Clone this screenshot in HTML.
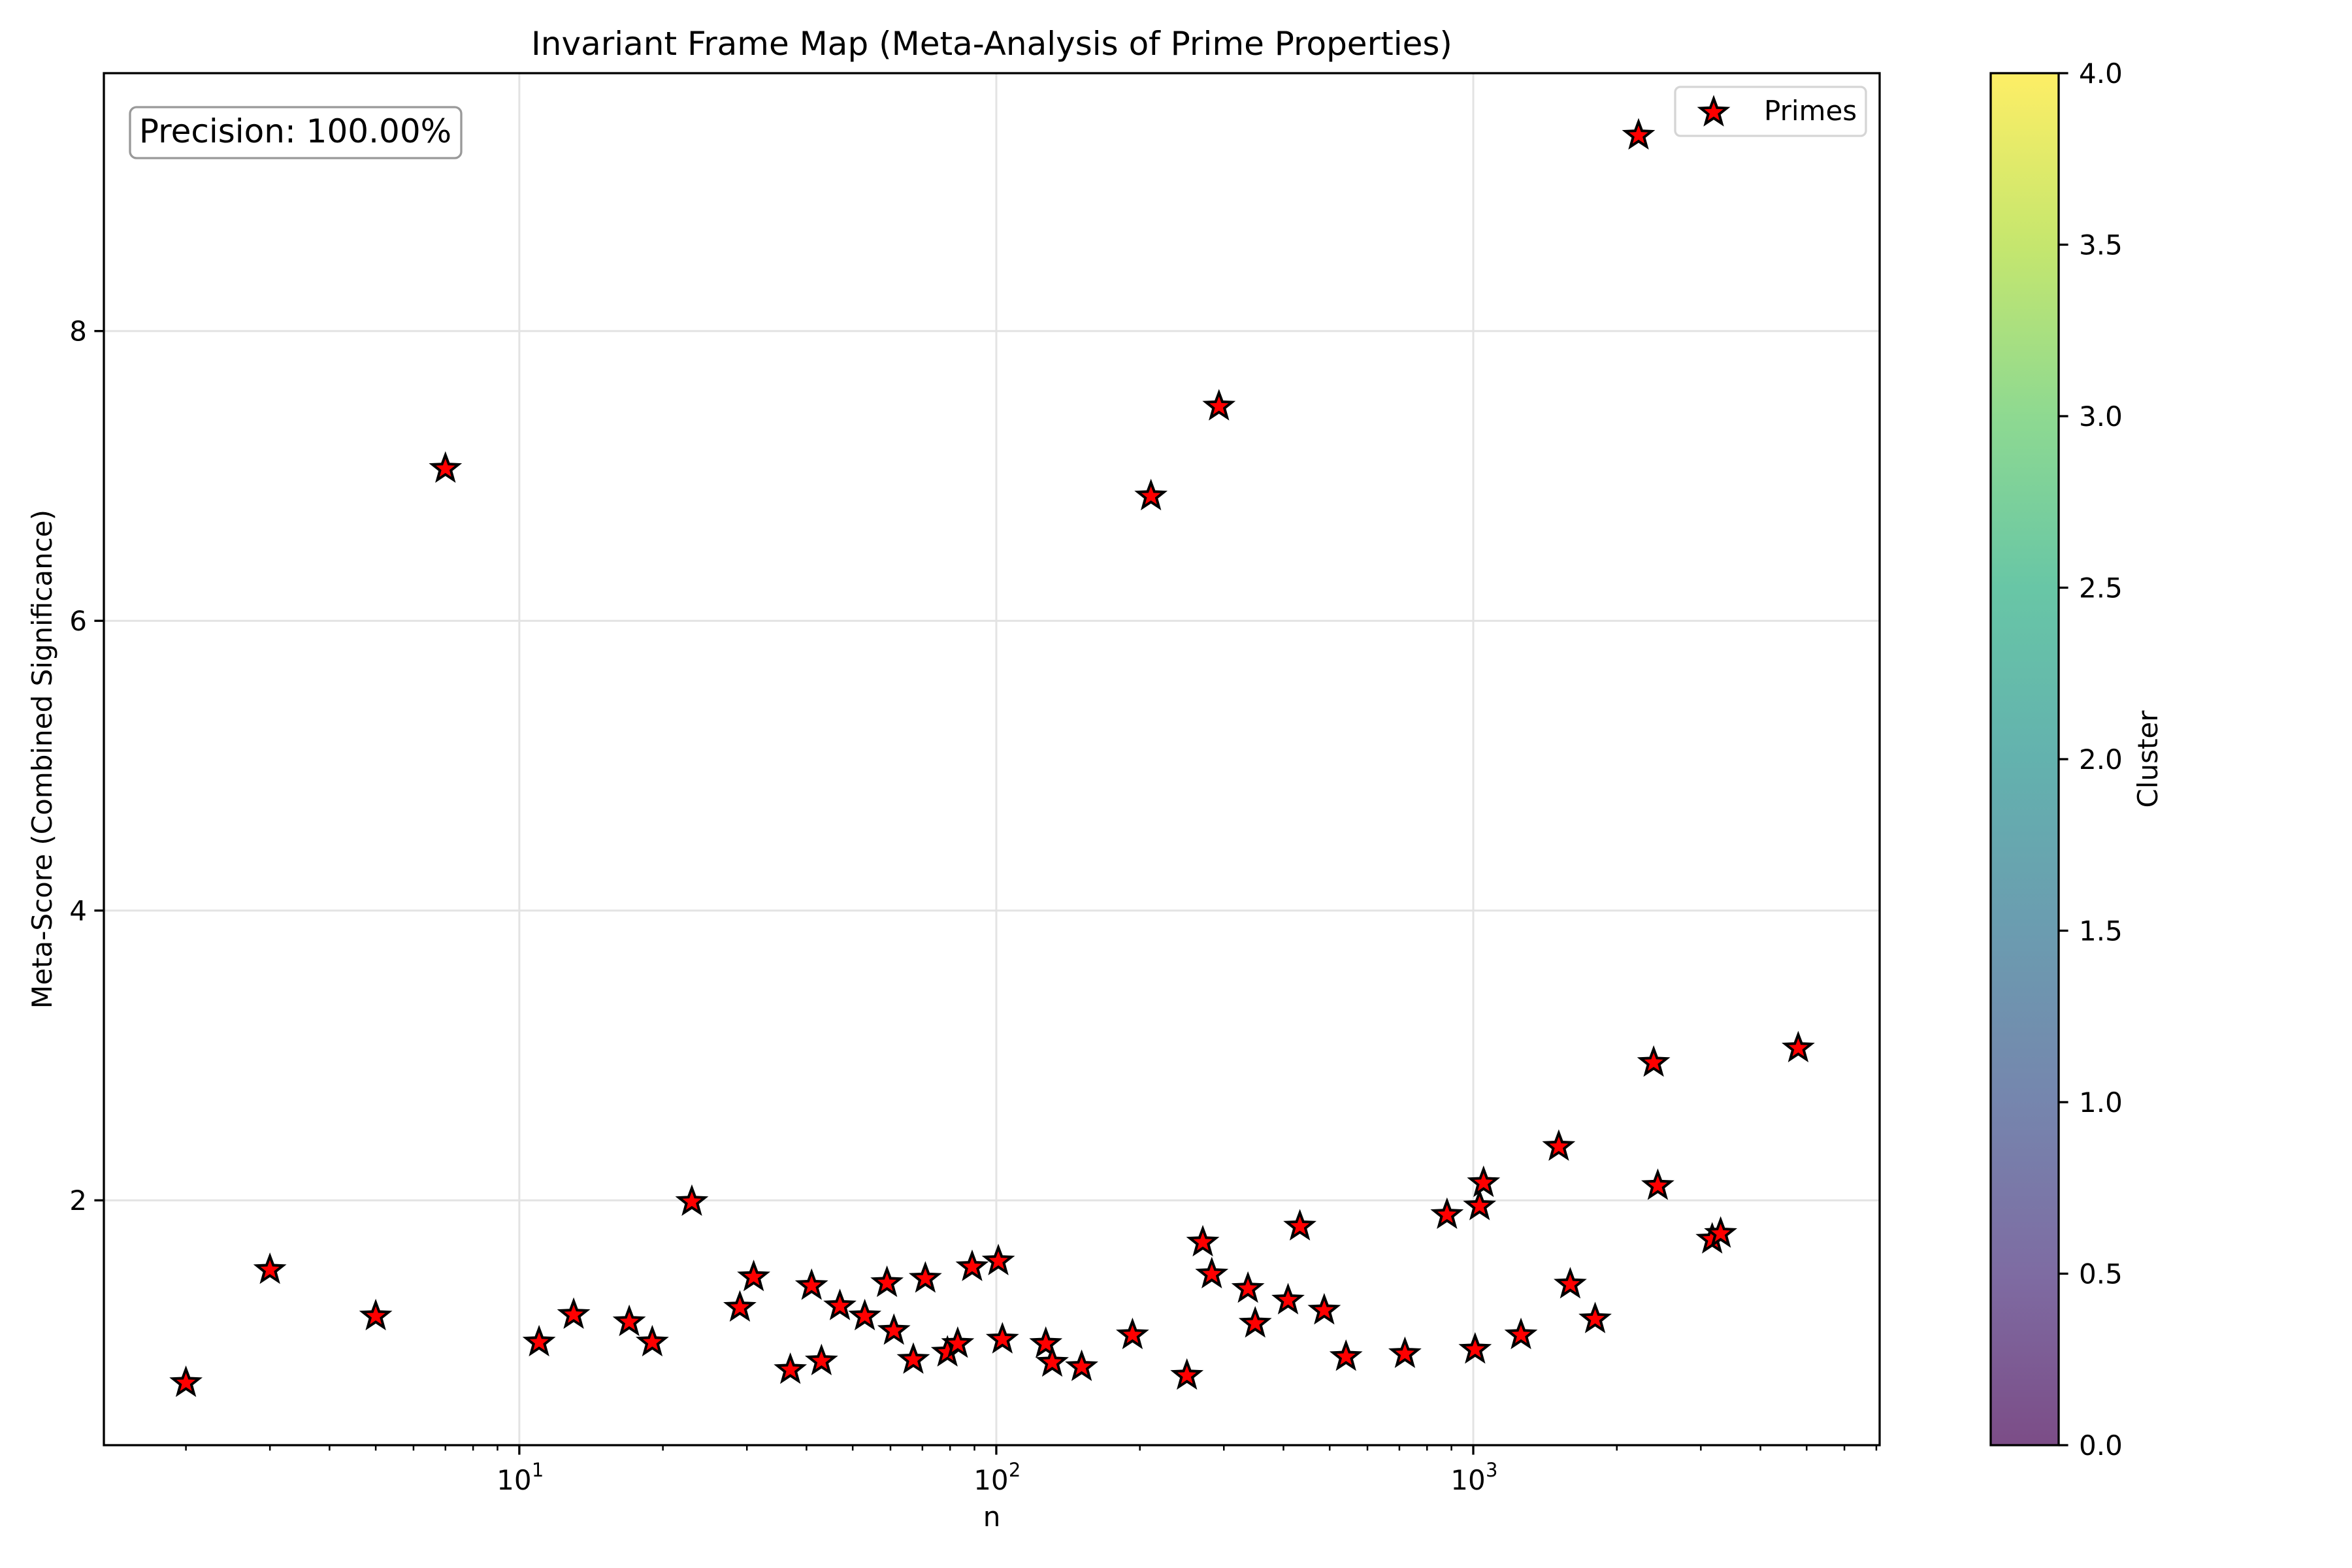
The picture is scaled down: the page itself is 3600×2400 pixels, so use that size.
<!DOCTYPE html>
<html><head><meta charset="utf-8">
<style>
html,body{margin:0;padding:0;background:#fff;}
svg{display:block;font-family:"DejaVu Sans","Liberation Sans",sans-serif;}
</style></head>
<body>
<svg id="chart" width="3600" height="2400" viewBox="0 0 3600 2400" xmlns="http://www.w3.org/2000/svg">
<defs>
<linearGradient id="viridis" x1="0" y1="1" x2="0" y2="0">
<stop offset="0" stop-color="#440154"/><stop offset="0.125" stop-color="#472d7b"/><stop offset="0.25" stop-color="#3b528b"/><stop offset="0.375" stop-color="#2c728e"/><stop offset="0.5" stop-color="#21918c"/><stop offset="0.625" stop-color="#28ae80"/><stop offset="0.75" stop-color="#5ec962"/><stop offset="0.875" stop-color="#addc30"/><stop offset="1" stop-color="#fde725"/>
</linearGradient>
</defs>
<g id="grid"></g>
<g id="points"></g>
<rect x="159" y="112" width="2718" height="2100" fill="none" stroke="#000" stroke-width="3.3"/>
<g id="axes"></g>
<text x="1518" y="84" font-size="50" text-anchor="middle">Invariant Frame Map (Meta-Analysis of Prime Properties)</text>
<text x="1518" y="2336" font-size="42" text-anchor="middle">n</text>
<text x="79" y="1162" font-size="42" text-anchor="middle" transform="rotate(-90 79 1162)">Meta-Score (Combined Significance)</text>
<g>
<rect x="199" y="164" width="507" height="78" rx="10" fill="#fff" stroke="#999" stroke-width="3.3"/>
<text x="452" y="218" font-size="50" text-anchor="middle">Precision: 100.00%</text>
</g>
<g>
<rect x="2564" y="133" width="292" height="75" rx="8" fill="#fff" stroke="#d5d5d5" stroke-width="3.3"/>
<g id="legend-marker"></g>
<text x="2700" y="184" font-size="42">Primes</text>
</g>
<g>
<rect x="3047" y="112" width="104" height="2100" fill="url(#viridis)" fill-opacity="0.7" stroke="#000" stroke-width="3.3"/>
<g id="cbticks"></g>
<text x="3302" y="1162" font-size="42" text-anchor="middle" transform="rotate(-90 3302 1162)">Cluster</text>
</g>
</svg>
<script>
const primes = [2,3,5,7,11,13,17,19,23,29,31,37,41,43,47,53,59,61,67,71,79,83,89,101,103,127,131,151,193,211,251,271,283,293,337,349,409,433,487,541,719,881,1009,1031,1051,1259,1511,1597,1801,2221,2389,2437,3169,3301,4801];
const scores = [0.74,1.52,1.20,7.05,1.02,1.21,1.16,1.02,1.99,1.26,1.47,0.83,1.41,0.89,1.27,1.20,1.43,1.10,0.90,1.46,0.95,1.01,1.54,1.58,1.04,1.01,0.88,0.85,1.07,6.86,0.79,1.71,1.49,7.48,1.39,1.15,1.31,1.82,1.24,0.92,0.94,1.90,0.97,1.96,2.12,1.07,2.37,1.42,1.18,9.35,2.95,2.10,1.73,1.77,3.05];
const yTicks = [2,4,6,8];
const xTicks = [10,100,1000];
const xTickLabels = ["1","2","3"];
const cbTicks = [0,0.5,1,1.5,2,2.5,3,3.5,4];
const cbTickLabels = ["0.0","0.5","1.0","1.5","2.0","2.5","3.0","3.5","4.0"];

const NS="http://www.w3.org/2000/svg";
const X0=159,X1=2877,Y0=112,Y1=2212;
const LMIN=0.129,LMAX=3.852,VMIN=0.31,VMAX=9.78;
function xs(n){return X0+(Math.log10(n)-LMIN)/(LMAX-LMIN)*(X1-X0);}
function ys(v){return Y1-(v-VMIN)/(VMAX-VMIN)*(Y1-Y0);}
function cbY(v){return 2212-v/4*2100;}
function mk(tag,attrs,parent){const e=document.createElementNS(NS,tag);for(const k in attrs)e.setAttribute(k,attrs[k]);parent.appendChild(e);return e;}
function star(cx,cy,r){let p=[];for(let i=0;i<10;i++){const a=-Math.PI/2+i*Math.PI/5;const rr=i%2?r*0.42:r;p.push((cx+rr*Math.cos(a)).toFixed(2)+","+(cy+rr*Math.sin(a)).toFixed(2));}return p.join(" ");}

const grid=document.getElementById('grid'),axes=document.getElementById('axes'),pts=document.getElementById('points');
yTicks.forEach(v=>{const y=ys(v);
 const g=mk('line',{x1:X0,x2:X1,y1:y,y2:y,stroke:'#e3e3e3','stroke-width':3},grid);
 
 mk('line',{x1:X0-14.6,x2:X0,y1:y,y2:y,stroke:'#000','stroke-width':3.3},axes);
 const t=mk('text',{x:X0-26,y:y+15,'font-size':42,'text-anchor':'end'},axes);t.textContent=v;
 
});
xTicks.forEach((n,i)=>{const x=xs(n);
 const g=mk('line',{x1:x,x2:x,y1:Y0,y2:Y1,stroke:'#e3e3e3','stroke-width':3},grid);
 
 mk('line',{x1:x,x2:x,y1:Y1,y2:Y1+14.6,stroke:'#000','stroke-width':3.3},axes);
 const t=mk('text',{x:x-8,y:Y1+68,'font-size':42,'text-anchor':'middle'},axes);t.textContent='10';
 
 const s=mk('text',{x:x+19,y:Y1+48,'font-size':29},axes);s.textContent=xTickLabels[i];
});
for(let k=0;k<4;k++)for(let m=2;m<=9;m++){const n=m*Math.pow(10,k);const l=Math.log10(n);if(l<LMIN||l>LMAX)continue;
 mk('line',{x1:xs(n),x2:xs(n),y1:Y1,y2:Y1+8.3,stroke:'#000','stroke-width':2.5},axes);}
primes.forEach((n,i)=>{
 const s=mk('polygon',{points:star(xs(n),ys(scores[i]),21),fill:'#ff0000',stroke:'#000','stroke-width':4,'stroke-linejoin':'miter'},pts);
 
 
});
mk('polygon',{points:star(2623,172,21),fill:'#ff0000',stroke:'#000','stroke-width':4},document.getElementById('legend-marker'));
const cb=document.getElementById('cbticks');
cbTicks.forEach((v,i)=>{const y=cbY(v);
 mk('line',{x1:3151,x2:3165.6,y1:y,y2:y,stroke:'#000','stroke-width':3.3},cb);
 const t=mk('text',{x:3182,y:y+15,'font-size':42},cb);t.textContent=cbTickLabels[i];
 
});
</script>
</body></html>
